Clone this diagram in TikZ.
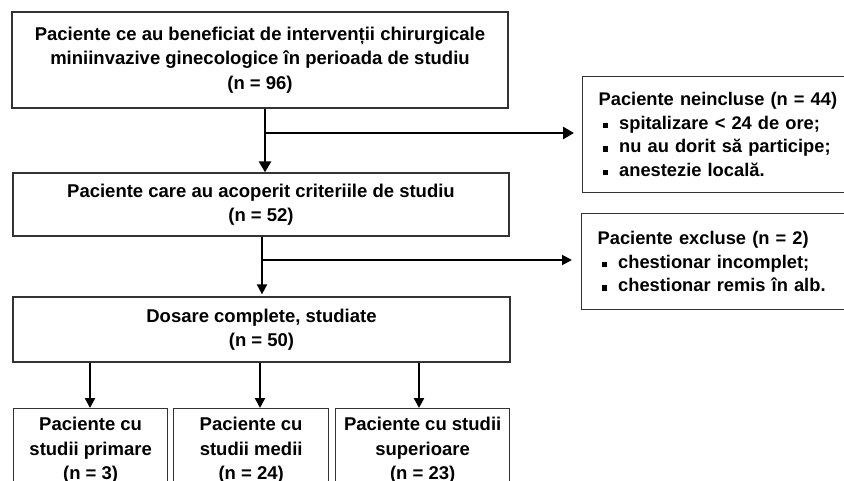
\documentclass[tikz,border=0pt]{standalone}
\usepackage{fontspec}
\setmainfont{Liberation Sans}
\usetikzlibrary{arrows.meta,calc}
\newcommand{\blt}{\hspace*{4pt}\rule[1pt]{5.5pt}{5.5pt}\hspace*{11pt}}
\begin{document}
\begin{tikzpicture}[x=1pt,y=-1pt,
  box/.style={draw=black!80, line width=1.3pt, inner sep=0pt, align=center,
    font=\fontsize{18.5}{24.5}\selectfont\bfseries},
  sidebox/.style={draw=black!80, line width=1.3pt, inner xsep=16pt, inner ysep=0pt,
    text width=250pt, align=left, anchor=north west,
    font=\fontsize{18.3}{23.5}\selectfont\bfseries},
  arrA/.style={line width=2.8pt, -{Triangle[length=11pt,width=12pt]}},
  arrB/.style={line width=2pt, -{Triangle[length=10pt,width=10pt]}},
  lineA/.style={line width=2.8pt},
  lineB/.style={line width=2pt}]
\useasboundingbox (0,0) rectangle (844,481);
\fill[white] (0,0) rectangle (844,481);

\node[box, minimum width=496pt, minimum height=96pt] (b1) at (260,60)
  {Paciente ce au beneficiat de intervenții chirurgicale\\ miniinvazive ginecologice în perioada de studiu\\ (n = 96)};
\node[box, minimum width=496pt, minimum height=63pt] (b2) at (261,204.5)
  {Paciente care au acoperit criteriile de studiu\\ (n = 52)};
\node[box, minimum width=497pt, minimum height=65pt] (b3) at (261.5,329.5)
  {Dosare complete, studiate\\ (n = 50)};

\node[box, minimum width=154pt, minimum height=84pt, anchor=north west] (c1) at (13,408)
  {Paciente cu\\ studii primare\\ (n = 3)};
\node[box, minimum width=155pt, minimum height=84pt, anchor=north west] (c2) at (173,408)
  {Paciente cu\\ studii medii\\ (n = 24)};
\node[box, minimum width=174pt, minimum height=84pt, anchor=north west] (c3) at (335,408)
  {Paciente cu studii\\ superioare\\ (n = 23)};

\node[sidebox, minimum height=116pt] (n1) at (582,76)
  {Paciente neincluse (n = 44)\\ \blt spitalizare < 24 de ore;\\ \blt nu au dorit să participe;\\ \blt anestezie locală.};
\node[sidebox, minimum height=96pt] (n2) at (581,213)
  {Paciente excluse (n = 2)\\ \blt chestionar incomplet;\\ \blt chestionar remis în alb.};

\coordinate (j1) at (265,133);
\coordinate (j2) at (262,260);
\draw[arrA] (b1.south -| j1) -- (b2.north -| j1);
\draw[arrA, shorten >=8pt] (j1) -- (j1 -| n1.west);
\draw[arrB, shorten >=2pt] (b2.south -| j2) -- (b3.north -| j2);
\draw[arrB, shorten >=9pt] (j2) -- (j2 -| n2.west);

\coordinate (k1) at (90,0);
\coordinate (k2) at (260,0);
\coordinate (k3) at (419,0);
\draw[arrB, line width=2.4pt] (b3.south -| k1) -- (c1.north -| k1);
\draw[arrB, line width=2.4pt] (b3.south -| k2) -- (c2.north -| k2);
\draw[arrB, line width=2.4pt] (b3.south -| k3) -- (c3.north -| k3);
\end{tikzpicture}
\end{document}
